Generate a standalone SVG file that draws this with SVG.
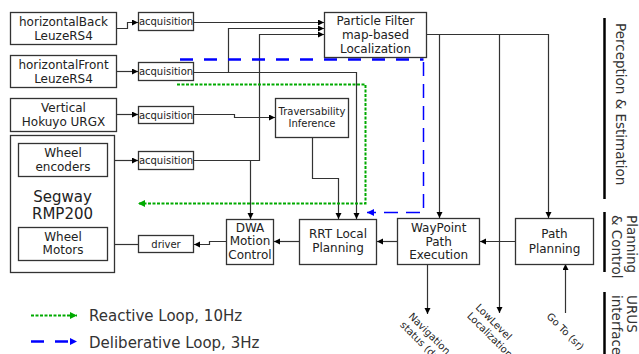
<svg xmlns="http://www.w3.org/2000/svg" width="639" height="354" viewBox="0 0 639 354">
<defs>
<marker id="ah" markerUnits="userSpaceOnUse" markerWidth="7" markerHeight="7" refX="6" refY="3" orient="auto"><path d="M0,0 L6,3 L0,6 z" fill="#000"/></marker>
<marker id="ahg" markerUnits="userSpaceOnUse" markerWidth="9" markerHeight="9" refX="7" refY="3.5" orient="auto"><path d="M0,0 L7,3.5 L0,7 z" fill="#00aa00"/></marker>
<marker id="ahb" markerUnits="userSpaceOnUse" markerWidth="9" markerHeight="9" refX="7" refY="3.5" orient="auto"><path d="M0,0 L7,3.5 L0,7 z" fill="#0000ff"/></marker>
<style>
.box{fill:#fff;stroke:#333;stroke-width:1.3}
.t{font-family:"DejaVu Sans",sans-serif;fill:#222;text-anchor:middle}
.t12{font-size:12px}
.t10{font-size:10px}
.c{fill:none;stroke:#333;stroke-width:1.2;marker-end:url(#ah)}
.cn{fill:none;stroke:#333;stroke-width:1.2}
.g{fill:none;stroke:#00aa00;stroke-width:2;stroke-dasharray:3,1.5}
.b{fill:none;stroke:#0000ff}
.bar{stroke:#000;stroke-width:2.5}
.side{font-family:"DejaVu Sans",sans-serif;fill:#333;font-size:13.5px}
.rot{font-family:"DejaVu Sans",sans-serif;fill:#222;font-size:10px}
.leg{font-family:"DejaVu Sans",sans-serif;fill:#333;font-size:15px}
</style>
</defs>

<g id="connectors">
<path class="c" d="M117,28.5 H127.5 V22.5 H138"/>
<path class="c" d="M117,71.5 H138"/>
<path class="c" d="M117,114.5 H138"/>
<path class="c" d="M107,160.5 H138"/>
<path class="c" d="M194,22.5 H324"/>
<path class="c" d="M228.5,72.5 V28.5 H324"/>
<path class="c" d="M194,72.5 H356.5 V219"/>
<path class="c" d="M194,114.5 H234.5 V117.5 H275"/>
<path class="c" d="M194,160.5 H259.5 V34.5 H324"/>
<path class="c" d="M250.5,160.5 V219"/>
<path class="c" d="M312.5,137 V178.5 H338.5 V219"/>
<path class="c" d="M427,34.5 H548.5 V218"/>
<path class="c" d="M439.5,34.5 V218"/>
<path class="c" d="M499.5,34.5 V313"/>
<path class="c" d="M515,241.5 H480"/>
<path class="c" d="M397,241.5 H377"/>
<path class="c" d="M299,241.5 H274"/>
<path class="c" d="M226,241.5 H209.5 V244.5 H194"/>
<path class="c" d="M138,244.5 H107"/>
<path class="c" d="M427.5,264 V314"/>
<path class="c" d="M565.5,313 V264"/>
<path class="g" d="M177,84.5 H365.5 V203.5 H138" marker-end="url(#ahg)"/>
<path class="b" d="M180,59.5 H423.5" stroke-width="2.5" stroke-dasharray="13,11"/>
<path class="b" d="M423.5,62 V212.5 H367" stroke-width="1.5" stroke-dasharray="14,8" marker-end="url(#ahb)"/>
</g>

<g id="hback"><rect class="box" x="10.5" y="12.5" width="106" height="32"/><text class="t t12" x="63.5" y="26">horizontalBack</text><text class="t t12" x="63.5" y="39.5">LeuzeRS4</text></g>
<g id="hfront"><rect class="box" x="10.5" y="55.5" width="106" height="32"/><text class="t t12" x="63.5" y="68.5">horizontalFront</text><text class="t t12" x="63.5" y="82.5">LeuzeRS4</text></g>
<g id="vertical"><rect class="box" x="10.5" y="98.5" width="106" height="33"/><text class="t t12" x="63.5" y="111.7">Vertical</text><text class="t t12" x="63.5" y="126">Hokuyo URGX</text></g>
<g id="segway"><rect class="box" x="10.5" y="135.5" width="104" height="137"/><text class="t" font-size="15" x="62.5" y="201.7">Segway</text><text class="t" font-size="15" x="62.5" y="219.3">RMP200</text></g>
<g id="encoders"><rect class="box" x="18.5" y="143.5" width="89" height="33"/><text class="t t12" x="63" y="157">Wheel</text><text class="t t12" x="63" y="170.7">encoders</text></g>
<g id="motors"><rect class="box" x="18.5" y="227.5" width="89" height="33"/><text class="t t12" x="63" y="241">Wheel</text><text class="t t12" x="63" y="254.3">Motors</text></g>
<g id="acq1"><rect class="box" x="138.5" y="12.5" width="55" height="18"/><text class="t t10" x="166" y="25.2">acquisition</text></g>
<g id="acq2"><rect class="box" x="138.5" y="62.5" width="55" height="18"/><text class="t t10" x="166" y="74.8">acquisition</text></g>
<g id="acq3"><rect class="box" x="138.5" y="106.5" width="55" height="17"/><text class="t t10" x="166" y="118.5">acquisition</text></g>
<g id="acq4"><rect class="box" x="138.5" y="151.5" width="55" height="18"/><text class="t t10" x="166" y="163.5">acquisition</text></g>
<g id="driver"><rect class="box" x="138.5" y="235.5" width="55" height="17"/><text class="t t10" x="166" y="247.5">driver</text></g>
<g id="pf"><rect class="box" x="324.5" y="12.5" width="102" height="45"/><text class="t t12" x="375.5" y="25">Particle Filter</text><text class="t t12" x="375.5" y="38.7">map-based</text><text class="t t12" x="375.5" y="52.5">Localization</text></g>
<g id="trav"><rect class="box" x="275.5" y="98.5" width="73" height="39"/><text class="t t10" x="312" y="115">Traversability</text><text class="t t10" x="312" y="127">Inference</text></g>
<g id="dwa"><rect class="box" x="226.5" y="219.5" width="47" height="45"/><text class="t t12" x="250" y="231.7">DWA</text><text class="t t12" x="250" y="245.2">Motion</text><text class="t t12" x="250" y="259">Control</text></g>
<g id="rrt"><rect class="box" x="299.5" y="219.5" width="77" height="45"/><text class="t t12" x="338" y="238.3">RRT Local</text><text class="t t12" x="338" y="252.3">Planning</text></g>
<g id="waypoint"><rect class="box" x="397.5" y="218.5" width="82" height="46"/><text class="t t12" x="438.7" y="231.7">WayPoint</text><text class="t t12" x="438.7" y="245.5">Path</text><text class="t t12" x="438.7" y="259.3">Execution</text></g>
<g id="path"><rect class="box" x="515.5" y="218.5" width="78" height="46"/><text class="t t12" x="554.5" y="238.3">Path</text><text class="t t12" x="554.5" y="252.5">Planning</text></g>

<g id="labels">
<text class="rot" transform="translate(408,317) rotate(45)"><tspan x="0" y="0">Navigation</tspan><tspan x="0" y="12">status (dr)</tspan></text>
<text class="rot" transform="translate(475,308) rotate(45)"><tspan x="0" y="0">LowLevel</tspan><tspan x="0" y="12">Localization</tspan></text>
<text class="rot" transform="translate(546,317) rotate(45)">Go To (sr)</text>
</g>

<g id="sections">
<line class="bar" x1="604.5" y1="18" x2="604.5" y2="199"/>
<line class="bar" x1="604.5" y1="212" x2="604.5" y2="272"/>
<line class="bar" x1="604.5" y1="292" x2="604.5" y2="354"/>
<text class="side" transform="translate(616,23) rotate(90)">Perception &amp; Estimation</text>
<text class="side" font-size="13" transform="translate(627,215) rotate(90)"><tspan x="0" y="0">Planning</tspan><tspan x="0" y="15">&amp; Control</tspan></text>
<text class="side" font-size="13" transform="translate(627,295) rotate(90)"><tspan x="0" y="0">URUS</tspan><tspan x="0" y="15">interface</tspan></text>
</g>

<g id="legend">
<path class="g" d="M31,315.5 H77" marker-end="url(#ahg)"/>
<path class="b" d="M31,341.5 H77" stroke-width="2.5" stroke-dasharray="13,11" marker-end="url(#ahb)"/>
<text class="leg" x="89" y="321">Reactive Loop, 10Hz</text>
<text class="leg" x="89" y="347.5">Deliberative Loop, 3Hz</text>
</g>
</svg>
